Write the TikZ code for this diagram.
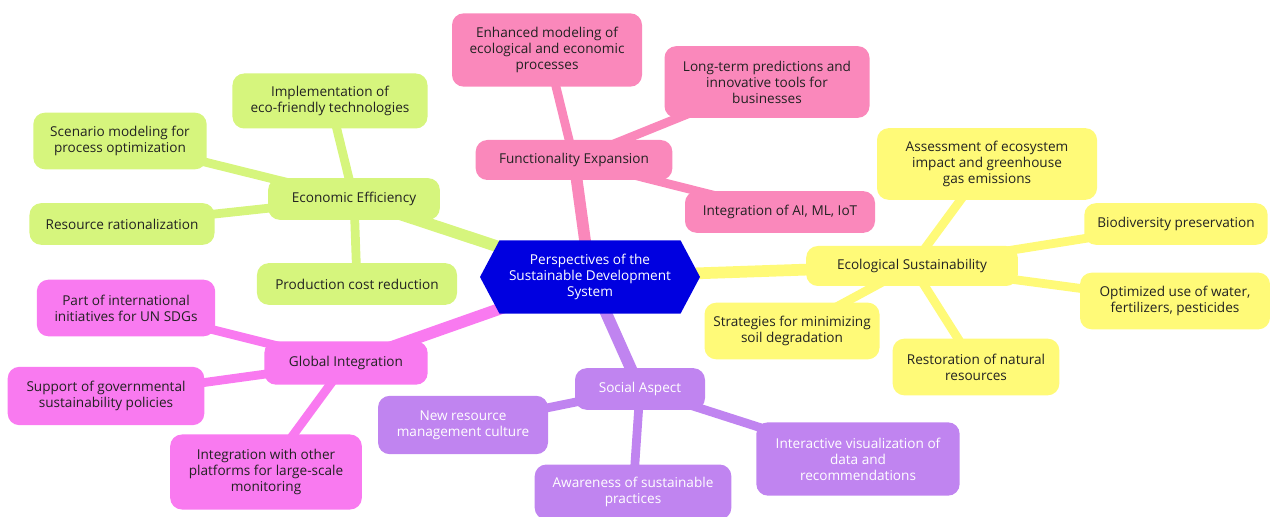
\documentclass[tikz,border=0pt]{standalone}
\usepackage{fontspec}
\setmainfont{Open Sans}
\usepackage{tikz}
\usetikzlibrary{shapes.symbols,backgrounds}
\definecolor{hubblue}{HTML}{0000E0}
\definecolor{mindpink}{HTML}{FA88BB}
\definecolor{mindgreen}{HTML}{D6F57D}
\definecolor{mindmagenta}{HTML}{F97AF0}
\definecolor{mindpurple}{HTML}{C084F0}
\definecolor{mindyellow}{HTML}{FFFA78}
\definecolor{darktext}{HTML}{222222}
\tikzset{
  leaf/.style={rounded corners=3.5mm,align=center,inner sep=1mm,font={\fontsize{11.6}{13.6}\selectfont},text=darktext},
  hubnode/.style={signal,signal to=east and west,signal pointer angle=124,fill=hubblue,text=white,align=center,font={\fontsize{11.6}{13.6}\selectfont},minimum width=6.6cm,minimum height=2.2cm,inner sep=1mm},
  pinkbox/.style={leaf,fill=mindpink},
  greenbox/.style={leaf,fill=mindgreen},
  magentabox/.style={leaf,fill=mindmagenta},
  purplebox/.style={leaf,fill=mindpurple,text=white},
  yellowbox/.style={leaf,fill=mindyellow},
  twig/.style={line width=7.5pt,line cap=round},
  bough/.style={line width=10pt,line cap=round}
}

\begin{document}
\begin{tikzpicture}[x=0.03cm,y=-0.03cm]
  \useasboundingbox (0,0) rectangle (1270,517);
  \node[hubnode] (hub) at (590,277) {Perspectives of the\\Sustainable Development\\System};
  \node[pinkbox,minimum width=5.9cm,minimum height=1.2cm] (func) at (574,160) {Functionality Expansion};
  \node[pinkbox,minimum width=5.7cm,minimum height=2.2cm] (enh) at (547,50) {Enhanced modeling of\\ecological and economic\\processes};
  \node[pinkbox,minimum width=6.15cm,minimum height=2.15cm] (long) at (767,82) {Long-term predictions and\\innovative tools for\\businesses};
  \node[pinkbox,minimum width=5.7cm,minimum height=1.25cm] (ai) at (780,212) {Integration of AI, ML, IoT};
  \node[greenbox,minimum width=5.15cm,minimum height=1.25cm] (econ) at (354,199) {Economic Efficiency};
  \node[greenbox,minimum width=5.85cm,minimum height=1.65cm] (impl) at (330,101) {Implementation of\\eco-friendly technologies};
  \node[greenbox,minimum width=5.2cm,minimum height=1.7cm] (scen) at (120,141) {Scenario modeling for\\process optimization};
  \node[greenbox,minimum width=5.55cm,minimum height=1.25cm] (res) at (122,224) {Resource rationalization};
  \node[greenbox,minimum width=6cm,minimum height=1.25cm] (prod) at (357,284) {Production cost reduction};
  \node[magentabox,minimum width=4.9cm,minimum height=1.3cm] (glob) at (346,363) {Global Integration};
  \node[magentabox,minimum width=5.35cm,minimum height=1.7cm] (part) at (126,308) {Part of international\\initiatives for UN SDGs};
  \node[magentabox,minimum width=5.9cm,minimum height=1.75cm] (supp) at (106,396) {Support of governmental\\sustainability policies};
  \node[magentabox,minimum width=5.75cm,minimum height=2.25cm] (intp) at (266,472) {Integration with other\\platforms for large-scale\\monitoring};
  \node[purplebox,minimum width=3.9cm,minimum height=1.25cm] (soc) at (640,389) {Social Aspect};
  \node[purplebox,minimum width=5.1cm,minimum height=1.75cm] (newr) at (463,425) {New resource\\management culture};
  \node[purplebox,minimum width=5.9cm,minimum height=1.65cm] (aware) at (633,492) {Awareness of sustainable\\practices};
  \node[purplebox,minimum width=6.1cm,minimum height=2.2cm] (inter) at (858,459) {Interactive visualization of\\data and\\recommendations};
  \node[yellowbox,minimum width=6.35cm,minimum height=1.2cm] (ecol) at (912,266) {Ecological Sustainability};
  \node[yellowbox,minimum width=6.6cm,minimum height=2.15cm] (assess) at (987,164) {Assessment of ecosystem\\impact and greenhouse\\gas emissions};
  \node[yellowbox,minimum width=5.5cm,minimum height=1.25cm] (bio) at (1176,224) {Biodiversity preservation};
  \node[yellowbox,minimum width=5.7cm,minimum height=1.7cm] (opt) at (1175,301) {Optimized use of water,\\fertilizers, pesticides};
  \node[yellowbox,minimum width=5.25cm,minimum height=1.7cm] (strat) at (792,331) {Strategies for minimizing\\soil degradation};
  \node[yellowbox,minimum width=5cm,minimum height=1.7cm] (rest) at (976,367) {Restoration of natural\\resources};
  \begin{scope}[on background layer]
    \draw[bough,mindpink] (hub.center) -- (func.center);
    \draw[bough,mindgreen] (hub.center) -- (econ.center);
    \draw[bough,mindmagenta] (hub.center) -- (glob.center);
    \draw[bough,mindpurple] (hub.center) -- (soc.center);
    \draw[bough,mindyellow] (hub.center) -- (ecol.center);
    \foreach \leafname in {enh,long,ai}
      \draw[twig,mindpink] (func.center) -- (\leafname.center);
    \foreach \leafname in {impl,scen,res,prod}
      \draw[twig,mindgreen] (econ.center) -- (\leafname.center);
    \foreach \leafname in {part,supp,intp}
      \draw[twig,mindmagenta] (glob.center) -- (\leafname.center);
    \foreach \leafname in {newr,aware,inter}
      \draw[twig,mindpurple] (soc.center) -- (\leafname.center);
    \foreach \leafname in {assess,bio,opt,strat,rest}
      \draw[twig,mindyellow] (ecol.center) -- (\leafname.center);
  \end{scope}
\end{tikzpicture}
\end{document}
